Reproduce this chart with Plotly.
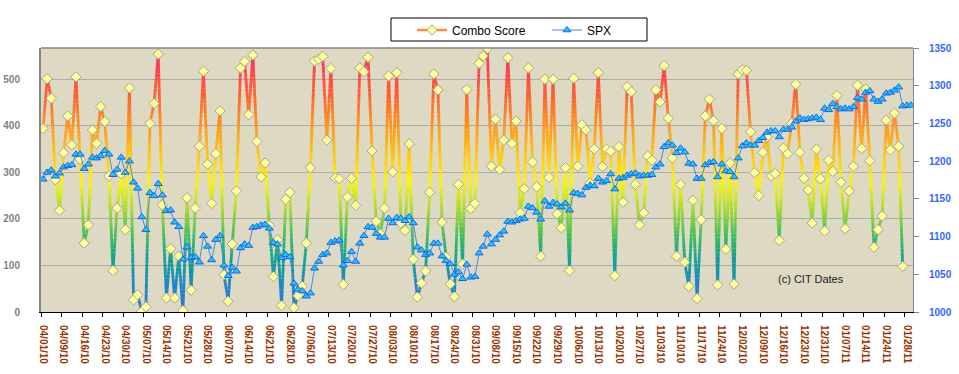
import math
import plotly.graph_objects as go

# ---------------- data ----------------
tick_labels = ["04/01/10", "04/09/10", "04/16/10", "04/23/10", "04/30/10", "05/07/10", "05/14/10",
               "05/21/10", "05/28/10", "06/07/10", "06/14/10", "06/21/10", "06/28/10", "07/06/10",
               "07/13/10", "07/20/10", "07/27/10", "08/03/10", "08/10/10", "08/17/10", "08/24/10",
               "08/31/10", "09/08/10", "09/15/10", "09/22/10", "09/29/10", "10/06/10", "10/13/10",
               "10/20/10", "10/27/10", "11/03/10", "11/10/10", "11/17/10", "11/24/10", "12/02/10",
               "12/09/10", "12/16/10", "12/23/10", "12/31/10", "01/07/11", "01/14/11", "01/24/11",
               "01/28/11"]
label_step = 5  # one label every 5 trading days

combo_score = [
    394, 501, 459, 284, 218, 342, 421, 359, 505, 328,
    148, 187, 391, 362, 441, 409, 292, 89, 223, 297,
    177, 481, 26, 37, 1, 11, 405, 448, 554, 230,
    30, 136, 30, 120, 3, 245, 47, 223, 356, 517,
    317, 233, 340, 432, 80, 23, 146, 260, 524, 538,
    424, 552, 366, 290, 320, 186, 76, 155, 14, 242,
    257, 9, 35, 55, 148, 310, 539, 543, 549, 369,
    523, 288, 286, 59, 247, 287, 229, 524, 516, 547,
    346, 195, 168, 223, 507, 301, 514, 191, 175, 361,
    113, 32, 62, 88, 257, 511, 477, 193, 118, 60,
    33, 274, 103, 478, 222, 233, 534, 550, 566, 313,
    414, 306, 369, 546, 362, 410, 213, 265, 524, 322,
    269, 120, 500, 289, 500, 211, 181, 310, 89, 502,
    313, 402, 391, 277, 350, 514, 312, 350, 345, 78,
    355, 236, 484, 473, 274, 187, 213, 335, 326, 477,
    451, 529, 416, 331, 120, 274, 107, 55, 240, 29,
    198, 421, 457, 411, 58, 394, 135, 320, 60, 511,
    520, 519, 387, 299, 250, 343, 376, 292, 297, 154,
    352, 340, 405, 489, 343, 287, 262, 191, 350, 286,
    174, 326, 302, 465, 279, 179, 260, 313, 487, 351,
    479, 325, 139, 177, 206, 412, 348, 427, 356, 98,
]

spx = [
    1176, 1185, 1188, 1180, 1184, 1192, 1194, 1195, 1209, 1209,
    1190, 1196, 1205, 1204, 1207, 1214, 1209, 1182, 1189, 1205,
    1185, 1200, 1172, 1164, 1126, 1109, 1158, 1154, 1170, 1155,
    1134, 1135, 1119, 1113, 1070, 1086, 1072, 1073, 1066, 1101,
    1087, 1069, 1096, 1101, 1062, 1048, 1059, 1054, 1085, 1090,
    1088, 1112, 1113, 1115, 1116, 1111, 1092, 1090, 1072, 1076,
    1073, 1038, 1030, 1028, 1021, 1025, 1058, 1067, 1076, 1078,
    1092, 1094, 1095, 1062, 1068, 1080, 1067, 1091, 1101, 1113,
    1112, 1104, 1099, 1099, 1124, 1118, 1125, 1124, 1121, 1126,
    1118, 1086, 1082, 1076, 1078, 1091, 1091, 1074, 1068, 1064,
    1050, 1053, 1044, 1063, 1046, 1047, 1078, 1087, 1103, 1090,
    1096, 1102, 1107, 1120, 1119, 1121, 1123, 1124, 1140, 1138,
    1132, 1123, 1147, 1140, 1145, 1143, 1139, 1144, 1135, 1158,
    1157, 1155, 1165, 1168, 1167, 1177, 1172, 1174, 1183, 1163,
    1177, 1178, 1181, 1183, 1184, 1180, 1181, 1181, 1182, 1192,
    1196, 1219, 1224, 1221, 1211, 1217, 1212, 1197, 1196, 1177,
    1177, 1195, 1198, 1199, 1179, 1196, 1187, 1186, 1179, 1204,
    1220, 1224, 1221, 1221, 1227, 1231, 1238, 1240, 1240, 1232,
    1242, 1242, 1245, 1253, 1257, 1255, 1256, 1257, 1258, 1255,
    1270, 1268, 1276, 1272, 1269, 1270, 1269, 1272, 1284, 1282,
    1291, 1293, 1282, 1279, 1282, 1290, 1291, 1294, 1298, 1273,
    1274, 1274,
]

left_ticks = [0, 100, 200, 300, 400, 500]
right_ticks = [1000, 1050, 1100, 1150, 1200, 1250, 1300, 1350]

# ---------------- styling helpers ----------------
FONT = "Liberation Sans, Arial, sans-serif"
W, H = 959, 374
ML, MR, MT, MB = 41, 46, 48, 62
PW, PH = W - ML - MR, H - MT - MB


def px_to_paper_x(px):
    return (px - ML) / PW


def px_to_paper_y(py):
    return (H - MB - py) / PH


grad_stops = [
    (0, (45, 115, 215)),
    (60, (25, 135, 195)),
    (110, (15, 160, 150)),
    (160, (55, 188, 95)),
    (220, (165, 218, 45)),
    (280, (255, 248, 0)),
    (330, (255, 205, 10)),
    (400, (255, 150, 30)),
    (470, (255, 92, 50)),
    (540, (255, 52, 88)),
    (600, (255, 40, 100)),
]


def grad_color(v):
    for (a, ca), (b, cb) in zip(grad_stops[:-1], grad_stops[1:]):
        if v <= b:
            t = max(0.0, min(1.0, (v - a) / (b - a)))
            c = [round(ca[k] + (cb[k] - ca[k]) * t) for k in range(3)]
            return "rgb(%d,%d,%d)" % tuple(c)
    return "rgb(%d,%d,%d)" % grad_stops[-1][1]


n_spx = len(spx)
n_combo = len(combo_score)
x_spx = list(range(n_spx))
x_combo = list(range(n_combo))

# split the combo polyline into value bands so that the line colour follows its value
STEP = 8
bands = {}
for k in range(n_combo - 1):
    x0, y0, x1, y1 = x_combo[k], combo_score[k], x_combo[k + 1], combo_score[k + 1]
    cuts = [0.0, 1.0]
    if y1 != y0:
        lo, hi = min(y0, y1), max(y0, y1)
        b = math.floor(lo / STEP) * STEP + STEP
        while b < hi:
            cuts.append((b - y0) / (y1 - y0))
            b += STEP
    cuts.sort()
    for a, c in zip(cuts[:-1], cuts[1:]):
        if c - a <= 1e-9:
            continue
        ym = y0 + (y1 - y0) * (a + c) / 2
        idx = int(ym // STEP)
        pa = (x0 + (x1 - x0) * a, y0 + (y1 - y0) * a)
        pc = (x0 + (x1 - x0) * c, y0 + (y1 - y0) * c)
        lines = bands.setdefault(idx, [])
        if lines and abs(lines[-1][-1][0] - pa[0]) < 1e-9 and abs(lines[-1][-1][1] - pa[1]) < 1e-9:
            lines[-1].append(pc)
        else:
            lines.append([pa, pc])

fig = go.Figure()

for idx in sorted(bands):
    xs, ys = [], []
    for poly in bands[idx]:
        xs += [p[0] for p in poly] + [None]
        ys += [p[1] for p in poly] + [None]
    fig.add_trace(go.Scatter(
        x=xs, y=ys, mode="lines", showlegend=False, hoverinfo="skip",
        line=dict(color=grad_color((idx + 0.5) * STEP), width=2.8),
    ))

combo_marker = dict(symbol="diamond", size=8, color="#FFFF99", line=dict(color="#A9A58C", width=1))

fig.add_trace(go.Scatter(
    x=x_combo, y=combo_score, mode="markers", name="Combo Score", showlegend=False,
    marker=combo_marker,
))
# legend entry for the combo series
fig.add_trace(go.Scatter(
    x=[None], y=[None], mode="lines+markers", name="Combo Score",
    line=dict(color="#FF8C3A", width=2.5), marker=combo_marker,
))

fig.add_trace(go.Scatter(
    x=x_spx, y=spx, mode="lines+markers", name="SPX", yaxis="y2",
    line=dict(color="#4A86E8", width=1),
    marker=dict(symbol="triangle-up", size=7, color="#19CCF5", line=dict(color="#1F5FEF", width=1)),
))

fig.update_layout(
    width=W, height=H,
    margin=dict(l=ML, r=MR, t=MT, b=MB, autoexpand=False),
    paper_bgcolor="white",
    plot_bgcolor="#DDD9C3",
    font=dict(family=FONT, size=11, color="#000"),
    showlegend=True,
    legend=dict(
        orientation="h", xref="paper", x=px_to_paper_x(412), xanchor="left",
        yref="container", y=1 - 30 / H, yanchor="middle",
        bgcolor="rgba(0,0,0,0)", borderwidth=0,
        font=dict(family=FONT, size=12, color="black"),
        itemwidth=30, traceorder="normal", entrywidth=90,
    ),
    xaxis=dict(
        automargin=False,
        range=[-0.5, n_spx - 0.5],
        tickmode="array",
        tickvals=[i * label_step for i in range(len(tick_labels))],
        ticktext=tick_labels,
        tickangle=90,
        ticks="",
        ticklabelstandoff=10,
        tickfont=dict(family=FONT, size=10, color="#993300", weight="bold"),
        showgrid=False, zeroline=False,
        showline=True, linecolor="black", linewidth=1,
        minor=dict(
            tickmode="array",
            tickvals=[i * label_step - 0.5 for i in range(len(tick_labels) + 1)],
            ticks="outside", ticklen=4, tickcolor="black", tickwidth=1, showgrid=False,
        ),
    ),
    yaxis=dict(
        automargin=False,
        range=[0, 567],
        tickmode="array", tickvals=left_ticks,
        ticks="", ticklabelstandoff=17,
        tickfont=dict(family=FONT, size=10, color="#7F7F7F", weight="bold"),
        showgrid=True, gridcolor="#ABABAB", gridwidth=1,
        zeroline=False,
        showline=True, linecolor="#868686", linewidth=2,
    ),
    yaxis2=dict(
        automargin=False,
        range=[1000, 1350], overlaying="y", side="right",
        tickmode="array", tickvals=right_ticks,
        ticks="outside", ticklen=5, tickcolor="#868686",
        ticklabelstandoff=8,
        tickfont=dict(family=FONT, size=10, color="#3366FF", weight="bold"),
        showgrid=False, zeroline=False,
        showline=True, linecolor="#868686", linewidth=1,
    ),
    shapes=[
        dict(type="line", xref="paper", yref="paper", x0=0, x1=1, y0=1, y1=1,
             line=dict(color="#868686", width=1.5), layer="above"),
        # legend frame
        dict(type="rect", xref="paper", yref="paper",
             x0=px_to_paper_x(391), x1=px_to_paper_x(647),
             y0=px_to_paper_y(41), y1=px_to_paper_y(18),
             line=dict(color="black", width=1), fillcolor="white", layer="below"),
    ],
    annotations=[dict(
        text="(c) CIT Dates", xref="paper", yref="paper", x=0.883, y=0.125,
        xanchor="center", yanchor="middle", showarrow=False,
        font=dict(family=FONT, size=11, color="#222222"),
    )],
)

fig.write_html(
    "out.html",
    config={"displayModeBar": False},
    post_script="document.body.style.margin='0px';document.body.style.padding='0px';",
)
